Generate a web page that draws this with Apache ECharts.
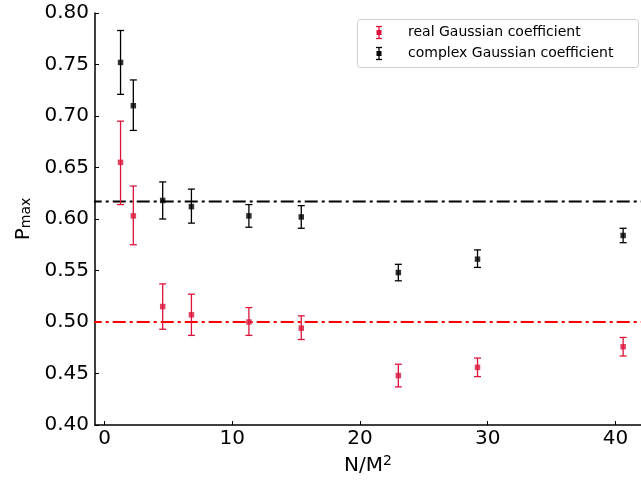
<!DOCTYPE html>
<html><head><meta charset="utf-8">
<script src="https://cdn.jsdelivr.net/npm/echarts@6/dist/echarts.min.js"></script>
<style>html,body{margin:0;padding:0;background:#fff}#c{width:641px;height:485px}</style>
</head><body><div id="c"></div>
<script>
const xVals = [1.25, 2.25, 4.55, 6.8, 11.3, 15.4, 23.0, 29.2, 40.6];
const realY = [0.655, 0.603, 0.515, 0.507, 0.500, 0.494, 0.448, 0.456, 0.476];
const realLo = [0.614, 0.575, 0.493, 0.487, 0.487, 0.483, 0.437, 0.447, 0.467];
const realHi = [0.695, 0.632, 0.537, 0.527, 0.514, 0.506, 0.459, 0.465, 0.485];
const cplxY = [0.752, 0.710, 0.618, 0.612, 0.603, 0.602, 0.548, 0.561, 0.584];
const cplxLo = [0.721, 0.686, 0.600, 0.596, 0.592, 0.591, 0.540, 0.553, 0.577];
const cplxHi = [0.783, 0.735, 0.636, 0.629, 0.614, 0.613, 0.556, 0.570, 0.591];
const realRef = 0.500;
const cplxRef = 0.617;
const xTicks = [0, 10, 20, 30, 40];
const yTicks = [0.40, 0.45, 0.50, 0.55, 0.60, 0.65, 0.70, 0.75, 0.80];
const legendNames = ['real Gaussian coefficient', 'complex Gaussian coefficient'];

const RED = '#dc143c';
const BLACK = '#000000';
const FONT = 'DejaVu Sans';

function errSeries(lo, hi, color) {
  return {
    type: 'custom',
    silent: true,
    z: 3,
    data: xVals.map((x, i) => [x, lo[i], hi[i]]),
    renderItem: function (params, api) {
      const top = api.coord([api.value(0), api.value(2)]);
      const bot = api.coord([api.value(0), api.value(1)]);
      const cw = 3.5;
      const st = { stroke: color, lineWidth: 1.3 };
      return {
        type: 'group',
        children: [
          { type: 'line', shape: { x1: top[0], y1: top[1], x2: bot[0], y2: bot[1] }, style: st },
          { type: 'line', shape: { x1: top[0] - cw, y1: top[1], x2: top[0] + cw, y2: top[1] }, style: st },
          { type: 'line', shape: { x1: bot[0] - cw, y1: bot[1], x2: bot[0] + cw, y2: bot[1] }, style: st }
        ]
      };
    }
  };
}

function refLine(v, color) {
  return {
    type: 'line',
    silent: true,
    symbol: 'none',
    z: 2,
    data: [[-5, v], [50, v]],
    lineStyle: { color: color, width: 2, type: [13, 4, 3, 4] }
  };
}

function legendIcon(cx, cy, color) {
  const st = { stroke: color, lineWidth: 1.3 };
  return [
    { type: 'line', shape: { x1: cx, y1: cy - 6, x2: cx, y2: cy + 6 }, style: st },
    { type: 'line', shape: { x1: cx - 3, y1: cy - 6, x2: cx + 3, y2: cy - 6 }, style: st },
    { type: 'line', shape: { x1: cx - 3, y1: cy + 6, x2: cx + 3, y2: cy + 6 }, style: st },
    { type: 'rect', shape: { x: cx - 2.5, y: cy - 2.5, width: 5, height: 5 }, style: { fill: color } }
  ];
}

const chart = echarts.init(document.getElementById('c'), null, { renderer: 'canvas' });
chart.setOption({
  animation: false,
  backgroundColor: '#fff',
  grid: { left: 95, top: 13, width: 547, height: 412 },
  xAxis: {
    type: 'value', min: -0.75, max: 42,
    name: '{a|N/M}{b|2}', nameLocation: 'middle', nameGap: 25,
    nameTextStyle: {
      rich: {
        a: { fontFamily: FONT, fontSize: 20, color: '#000', verticalAlign: 'bottom', lineHeight: 22 },
        b: { fontFamily: FONT, fontSize: 14, color: '#000', verticalAlign: 'top', lineHeight: 22 }
      }
    },
    axisLine: { onZero: false, lineStyle: { color: '#000', width: 1.5 } },
    axisTick: { inside: true, length: 4, customValues: xTicks, lineStyle: { color: '#000' } },
    axisLabel: { customValues: xTicks, fontFamily: FONT, fontSize: 20, color: '#000', margin: 4 },
    splitLine: { show: false }
  },
  yAxis: {
    type: 'value', min: 0.40, max: 0.80, interval: 0.05,
    name: '{a|P}{b|max}', nameLocation: 'middle', nameGap: 60, nameRotate: 90,
    nameTextStyle: {
      rich: {
        a: { fontFamily: FONT, fontSize: 20, color: '#000', verticalAlign: 'bottom', lineHeight: 26 },
        b: { fontFamily: FONT, fontSize: 14, color: '#000', verticalAlign: 'bottom', lineHeight: 19 }
      }
    },
    axisLine: { onZero: false, lineStyle: { color: '#000', width: 1.5 } },
    axisTick: { inside: true, length: 4, lineStyle: { color: '#000' } },
    axisLabel: {
      fontFamily: FONT, fontSize: 20, color: '#000', margin: 6,
      formatter: v => v.toFixed(2)
    },
    splitLine: { show: false }
  },
  series: [
    refLine(cplxRef, BLACK),
    refLine(realRef, '#ff0000'),
    errSeries(realLo, realHi, RED),
    errSeries(cplxLo, cplxHi, BLACK),
    { type: 'scatter', name: legendNames[0], symbol: 'rect', symbolSize: 5.5, z: 4,
      itemStyle: { color: RED }, data: xVals.map((x, i) => [x, realY[i]]) },
    { type: 'scatter', name: legendNames[1], symbol: 'rect', symbolSize: 5.5, z: 4,
      itemStyle: { color: BLACK }, data: xVals.map((x, i) => [x, cplxY[i]]) }
  ],
  graphic: [
    { type: 'rect', z: 10, shape: { x: 357.5, y: 19.5, width: 281, height: 48, r: 3 },
      style: { fill: 'rgba(255,255,255,0.8)', stroke: '#d0d0d0', lineWidth: 1 } },
    ...legendIcon(379, 32.5, RED).map(e => Object.assign(e, { z: 11 })),
    ...legendIcon(379, 53.5, BLACK).map(e => Object.assign(e, { z: 11 })),
    { type: 'text', z: 11, x: 408, y: 32.5, style: { text: legendNames[0], fontFamily: FONT, fontSize: 14, fill: '#000', verticalAlign: 'middle' } },
    { type: 'text', z: 11, x: 408, y: 53.5, style: { text: legendNames[1], fontFamily: FONT, fontSize: 14, fill: '#000', verticalAlign: 'middle' } }
  ]
});
</script></body></html>
